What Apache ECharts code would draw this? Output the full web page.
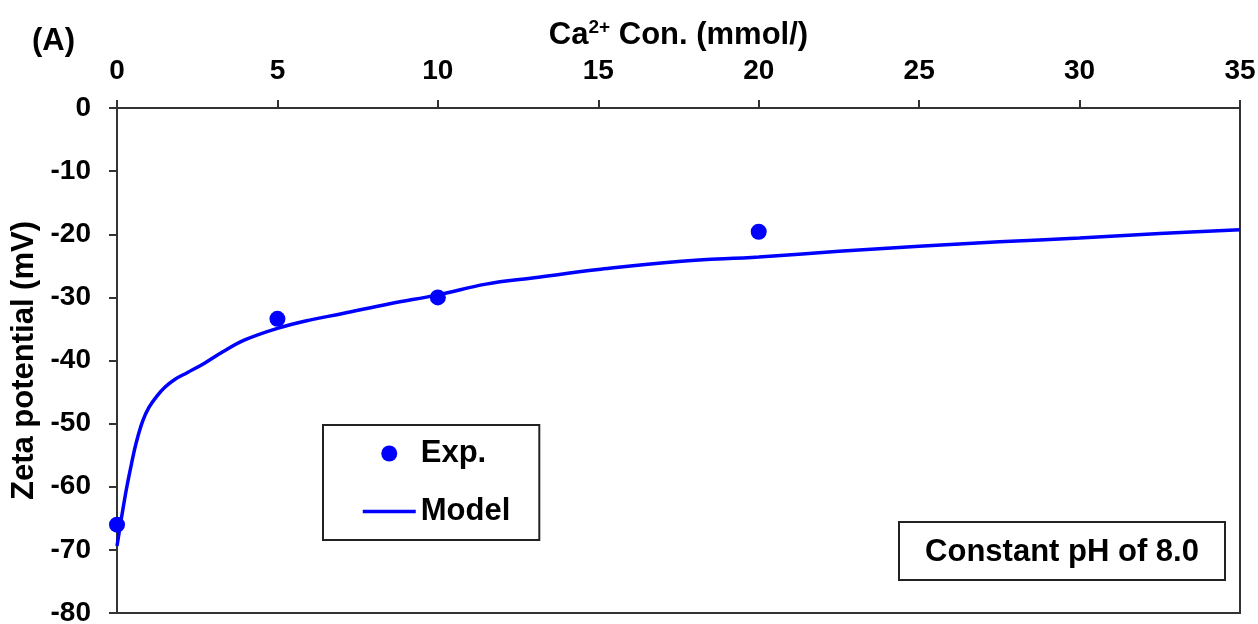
<!DOCTYPE html>
<html>
<head>
<meta charset="utf-8">
<script src="https://cdn.jsdelivr.net/npm/echarts@6/dist/echarts.min.js"></script>
<style>
  html, body { margin: 0; padding: 0; background: #fff; }
  #chart { width: 1258px; height: 624px; }
</style>
</head>
<body>
<div id="chart"></div>
<script>
// Measured zeta potential vs. Ca2+ concentration
const expConc = [0, 5, 10, 20];
const expZeta = [-66, -33.4, -30, -19.6];

// Model curve samples
const modelConc = [0, 0.15, 0.3, 0.45, 0.6, 0.8, 1.0, 1.25, 1.5, 1.8, 2.2, 2.7, 3.3, 4, 5, 6, 7, 8.5, 10, 11.5, 13, 15, 17.5, 20, 22.5, 25, 27.5, 30, 32.5, 35];
const modelZeta = [-69.4, -64.6, -60.2, -56.4, -53, -49.6, -47.4, -45.6, -44.2, -43, -41.9, -40.5, -38.6, -36.7, -34.9, -33.6, -32.6, -31, -29.6, -27.9, -26.9, -25.6, -24.3, -23.6, -22.7, -21.9, -21.2, -20.6, -19.9, -19.3];

// Axis ticks
const xTicks = { min: 0, max: 35, step: 5 };
const yTicks = { min: -80, max: 0, step: 10 };

const FONT = '"Liberation Sans", Arial, sans-serif';
const AXIS_COLOR = '#333';
const BLUE = '#0000FF';
const BIG = 31;
const TICK = 28;

const chart = echarts.init(document.getElementById('chart'), null, { renderer: 'canvas' });

const option = {
  animation: false,
  backgroundColor: '#fff',
  grid: {
    left: 117, right: 18, top: 108, bottom: 11,
    outerBoundsMode: 'none',
    containLabel: false,
    show: true, borderColor: AXIS_COLOR, borderWidth: 2, backgroundColor: 'transparent'
  },
  xAxis: {
    type: 'value',
    position: 'top',
    min: xTicks.min, max: xTicks.max, interval: xTicks.step,
    name: '{a|Ca}{s|2+}{a| Con. (mmol/)}',
    nameLocation: 'middle',
    nameGap: 56,
    nameTextStyle: {
      rich: {
        a: { fontFamily: FONT, fontWeight: 'bold', fontSize: BIG, color: '#000', lineHeight: 34 },
        s: { fontFamily: FONT, fontWeight: 'bold', fontSize: 19, color: '#000', verticalAlign: 'top', lineHeight: 22 }
      }
    },
    axisLine: { show: true, onZero: false, lineStyle: { color: AXIS_COLOR, width: 2 } },
    axisTick: { show: true, inside: false, length: 8, lineStyle: { color: AXIS_COLOR, width: 2 } },
    axisLabel: { margin: 23, fontFamily: FONT, fontWeight: 'bold', fontSize: TICK, color: '#000' },
    splitLine: { show: false }
  },
  yAxis: {
    type: 'value',
    min: yTicks.min, max: yTicks.max, interval: yTicks.step,
    name: 'Zeta potential (mV)',
    nameLocation: 'middle',
    nameGap: 71,
    nameRotate: 90,
    nameTextStyle: { fontFamily: FONT, fontWeight: 'bold', fontSize: BIG, color: '#000' },
    axisLine: { show: true, onZero: false, lineStyle: { color: AXIS_COLOR, width: 2 } },
    axisTick: { show: true, inside: false, length: 8, lineStyle: { color: AXIS_COLOR, width: 2 } },
    axisLabel: { margin: 26, fontFamily: FONT, fontWeight: 'bold', fontSize: TICK, color: '#000' },
    splitLine: { show: false }
  },
  legend: {
    orient: 'vertical',
    left: 323, top: 425,
    padding: [13, 29, 13, 38],
    itemGap: 27,
    itemWidth: 53,
    itemHeight: 16,
    borderColor: '#222',
    borderWidth: 2,
    backgroundColor: '#fff',
    textStyle: { fontFamily: FONT, fontWeight: 'bold', fontSize: BIG, color: '#000', lineHeight: 30 },
    data: [
      { name: 'Exp.', icon: 'circle', itemStyle: { color: BLUE, opacity: 1 } },
      { name: 'Model', itemStyle: { opacity: 0 }, lineStyle: { color: BLUE, width: 3.5 } }
    ]
  },
  graphic: [
    {
      type: 'text', left: 32, top: 26,
      style: { text: '(A)', fontFamily: FONT, fontWeight: 'bold', fontSize: BIG, fill: '#000' }
    },
    {
      type: 'group', left: 898, top: 521,
      children: [
        { type: 'rect', shape: { x: 0, y: 0, width: 326, height: 58 },
          style: { fill: '#fff', stroke: '#222', lineWidth: 2 } },
        { type: 'text', x: 163, y: 30,
          style: { text: 'Constant pH of 8.0', fontFamily: FONT, fontWeight: 'bold', fontSize: BIG,
                   fill: '#000', align: 'center', verticalAlign: 'middle' } }
      ]
    }
  ],
  series: [
    {
      name: 'Model',
      type: 'line',
      data: modelConc.map((x, i) => [x, modelZeta[i]]),
      smooth: 0.4,
      showSymbol: false,
      symbol: 'none',
      lineStyle: { color: BLUE, width: 3.5 },
      itemStyle: { color: BLUE },
      z: 2
    },
    {
      name: 'Exp.',
      type: 'scatter',
      data: expConc.map((x, i) => [x, expZeta[i]]),
      symbol: 'circle',
      symbolSize: 16,
      itemStyle: { color: BLUE, opacity: 1 },
      z: 3
    }
  ]
};

chart.setOption(option);
</script>
</body>
</html>
